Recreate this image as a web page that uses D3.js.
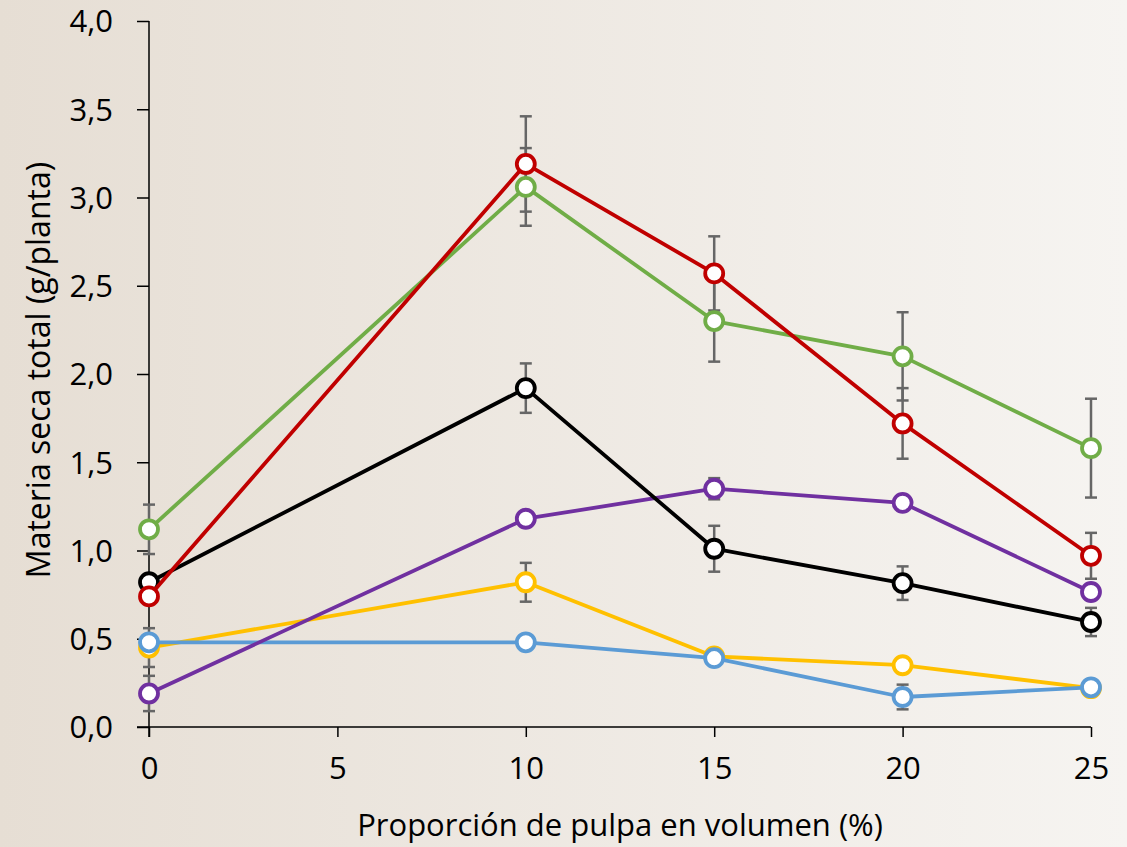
<!DOCTYPE html>
<html>
<head>
  <meta http-equiv="Content-Type" content="text/html;charset=utf-8">
  <title>Materia seca</title>
  <script src="https://d3js.org/d3.v7.min.js"></script>
  <style>
    html, body { margin: 0; padding: 0; }
    text { font-family: "Open Sans", Lato, sans-serif; fill: #000; }
  </style>
</head>
<body>
<script>
  // data
  var proportions = [0, 10, 15, 20, 25];
  var xTicks = [0, 5, 10, 15, 20, 25];
  var yTicks = [0, 0.5, 1, 1.5, 2, 2.5, 3, 3.5, 4];

  var yellowVals = [0.45, 0.82, 0.40, 0.35, 0.22];
  var yellowErr  = [0.11, 0.11, 0, 0, 0];
  var blueVals   = [0.48, 0.48, 0.39, 0.17, 0.225];
  var blueErr    = [0, 0, 0, 0.07, 0];
  var purpleVals = [0.19, 1.18, 1.35, 1.27, 0.765];
  var purpleErr  = [0.10, 0, 0.06, 0, 0];
  var blackVals  = [0.82, 1.92, 1.01, 0.815, 0.595];
  var blackErr   = [0, 0.14, 0.13, 0.095, 0.08];
  var greenVals  = [1.12, 3.06, 2.30, 2.10, 1.58];
  var greenErr   = [0.14, 0.22, 0.23, 0.25, 0.28];
  var redVals    = [0.74, 3.19, 2.57, 1.72, 0.97];
  var redErr     = [0, 0.27, 0.21, 0.20, 0.13];

  var series = [
    { color: "#ffc000", vals: yellowVals, err: yellowErr },
    { color: "#5b9bd5", vals: blueVals, err: blueErr },
    { color: "#7030a0", vals: purpleVals, err: purpleErr },
    { color: "#000000", vals: blackVals, err: blackErr },
    { color: "#70ad47", vals: greenVals, err: greenErr },
    { color: "#c00000", vals: redVals, err: redErr }
  ];

  var W = 1127, H = 847;
  var svg = d3.select("body").append("svg")
    .attr("width", W)
    .attr("height", H);

  var grad = svg.append("defs").append("linearGradient")
    .attr("id", "bg").attr("x1", "0").attr("x2", "1").attr("y1", "0").attr("y2", "0");
  grad.append("stop").attr("offset", "0").attr("stop-color", "#e6ded4");
  grad.append("stop").attr("offset", "1").attr("stop-color", "#f6f4f1");
  svg.append("rect").attr("width", W).attr("height", H).attr("fill", "url(#bg)");

  var x = d3.scaleLinear().domain([0, 25]).range([149, 1091]);
  var y = d3.scaleLinear().domain([0, 4]).range([727, 21]);

  // axes
  var yAxis = svg.append("g")
    .attr("transform", "translate(149,0)")
    .call(d3.axisLeft(y).tickValues(yTicks).tickSize(12).tickPadding(24)
      .tickFormat(function (d) { return d3.format(".1f")(d).replace(".", ","); }));
  yAxis.select(".domain").attr("stroke", "#000").attr("stroke-width", 1.5).attr("d", "M0,21V737");
  yAxis.selectAll(".tick line").attr("stroke", "#000").attr("stroke-width", 1.5);
  yAxis.selectAll("text").attr("font-size", 31).attr("dy", "0.35em");

  var xAxis = svg.append("g")
    .attr("transform", "translate(0,727)")
    .call(d3.axisBottom(x).tickValues(xTicks).tickSize(10).tickPadding(20));
  xAxis.select(".domain").attr("stroke", "#000").attr("stroke-width", 1.5).attr("d", "M137,0H1091");
  xAxis.selectAll(".tick line").attr("stroke", "#000").attr("stroke-width", 1.5);
  xAxis.selectAll("text").attr("font-size", 31);

  svg.append("text")
    .attr("transform", "translate(50,370) rotate(-90)")
    .attr("text-anchor", "middle")
    .attr("font-size", 32)
    .text("Materia seca total (g/planta)");

  svg.append("text")
    .attr("x", 620).attr("y", 836)
    .attr("text-anchor", "middle")
    .attr("font-size", 31)
    .text("Proporción de pulpa en volumen (%)");

  // error bars
  var eb = svg.append("g").attr("stroke", "#666").attr("stroke-width", 2.5);
  series.forEach(function (s) {
    proportions.forEach(function (p, i) {
      var e = s.err[i];
      if (!e) return;
      var cx = x(p), top = y(s.vals[i] + e), bot = y(s.vals[i] - e);
      eb.append("line").attr("x1", cx).attr("x2", cx).attr("y1", top).attr("y2", bot);
      eb.append("line").attr("x1", cx - 6).attr("x2", cx + 6).attr("y1", top).attr("y2", top);
      eb.append("line").attr("x1", cx - 6).attr("x2", cx + 6).attr("y1", bot).attr("y2", bot);
    });
  });

  var line = d3.line()
    .x(function (d) { return x(d[0]); })
    .y(function (d) { return y(d[1]); });

  series.forEach(function (s) {
    var pts = proportions.map(function (p, i) { return [p, s.vals[i]]; });
    var g = svg.append("g");
    g.append("path")
      .attr("d", line(pts))
      .attr("fill", "none")
      .attr("stroke", s.color)
      .attr("stroke-width", 3.8)
      .attr("stroke-linejoin", "round");
    g.selectAll("circle").data(pts).enter().append("circle")
      .attr("cx", function (d) { return x(d[0]); })
      .attr("cy", function (d) { return y(d[1]); })
      .attr("r", 9)
      .attr("fill", "#fff")
      .attr("stroke", s.color)
      .attr("stroke-width", 3.8);
  });
</script>
</body>
</html>
